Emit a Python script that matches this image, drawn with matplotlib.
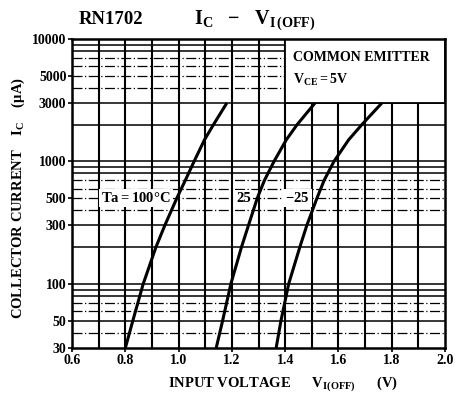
import matplotlib
matplotlib.use("Agg")
import matplotlib.pyplot as plt
from matplotlib.patches import Rectangle
import numpy as np

plt.rcParams['font.family'] = ['Liberation Serif', 'DejaVu Serif']
plt.rcParams['font.weight'] = 'bold'
plt.rcParams['mathtext.fontset'] = 'custom'
plt.rcParams['mathtext.rm'] = 'Liberation Serif:bold'
plt.rcParams['mathtext.it'] = 'Liberation Serif:bold'
plt.rcParams['mathtext.bf'] = 'Liberation Serif:bold'

# Data
ic_levels = [30, 50, 100, 200, 300, 500, 700, 1000, 1500, 2000, 3000]
v_100 = [0.800, 0.828, 0.867, 0.915, 0.948, 0.993, 1.025, 1.058, 1.097, 1.131, 1.181]
v_25 = [1.141, 1.165, 1.196, 1.236, 1.262, 1.295, 1.322, 1.358, 1.404, 1.445, 1.512]
v_m25 = [1.366, 1.384, 1.413, 1.455, 1.481, 1.519, 1.546, 1.583, 1.638, 1.688, 1.763]

x_ticks = [0.6, 0.8, 1.0, 1.2, 1.4, 1.6, 1.8, 2.0]
y_ticks = [30, 50, 100, 300, 500, 1000, 3000, 5000, 10000]
y_tick_labels = ["30", "50", "100", "300", "500", "1000", "3000", "5000", "10000"]

fig = plt.figure(figsize=(4.56, 3.97), dpi=100)
ax = fig.add_axes([0.158, 0.1234, 0.818, 0.7786])
ax.set_yscale('log')
ax.set_xlim(0.6, 2.0)
ax.set_ylim(30, 10000)

# grid
for xv in np.arange(0.7, 2.0, 0.1):
    ax.axvline(xv, color='black', lw=1.5, zorder=1)
solid_mult = [1, 2, 3, 8, 9]
for dec in [10, 100, 1000]:
    for m in range(1, 10):
        val = m * dec
        if val <= 30 or val >= 10000:
            continue
        if m in solid_mult or val == 50:
            ax.axhline(val, color='black', lw=1.1, zorder=1)
        else:
            ax.axhline(val, color='black', lw=0.9, ls=(0, (8, 2, 1, 2)), zorder=1)

# info box
ax.add_patch(Rectangle((1.4, 3000), 0.6, 7000, facecolor='white',
                       edgecolor='black', lw=1.3, zorder=3))
ax.text(1.43, 7000, "COMMON EMITTER", fontsize=10, fontweight='bold',
        va='center', ha='left', zorder=4)
ax.text(1.43, 4600, r"V$_{\rm CE}$$=$5V", fontsize=10, fontweight='bold',
        va='center', ha='left', zorder=4)

# curves
for v in [v_100, v_25, v_m25]:
    ax.plot(v, ic_levels, color='black', lw=2.2, zorder=5,
            solid_joinstyle='round', solid_capstyle='butt')

bb = dict(facecolor='white', edgecolor='none', pad=1.5)
ax.text(0.71, 500, "Ta$=$100°C", fontsize=10.5, fontweight='bold', va='center',
        ha='left', zorder=4, bbox=bb)
ax.text(1.218, 500, "25", fontsize=10.5, fontweight='bold', va='center',
        ha='left', zorder=4, bbox=bb)
ax.text(1.40, 500, "$-$25", fontsize=10.5, fontweight='bold', va='center',
        ha='left', zorder=4, bbox=bb)

ax.set_xticks(x_ticks)
ax.set_xticklabels([f"{t:.1f}" for t in x_ticks], fontsize=10, fontweight='bold')
ax.set_yticks(y_ticks)
ax.set_yticklabels(y_tick_labels, fontsize=10, fontweight='bold')
ax.yaxis.set_minor_locator(matplotlib.ticker.NullLocator())
ax.tick_params(axis='both', length=3, width=1.2, pad=1)
for s in ax.spines.values():
    s.set_linewidth(1.8)
    s.set_zorder(6)

fig.text(0.173, 0.952, "RN1702", fontsize=13.5, fontweight='bold', ha='left', va='center')
fig.text(0.558, 0.950, r"I$_{\rm C}$   $-$   V$_{\rm I\,(OFF)}$", fontsize=14.5,
         fontweight='bold', ha='center', va='center')
fig.text(0.04, 0.501, r"COLLECTOR CURRENT    I$_{\rm C}$    ($\mu$A)", fontsize=10.5,
         fontweight='bold', rotation=90, ha='center', va='center')
fig.text(0.62, 0.035, r"INPUT VOLTAGE      V$_{\rm I(OFF)}$      (V)", fontsize=10.5,
         fontweight='bold', ha='center', va='center')

fig.savefig("out.png", dpi=100)
